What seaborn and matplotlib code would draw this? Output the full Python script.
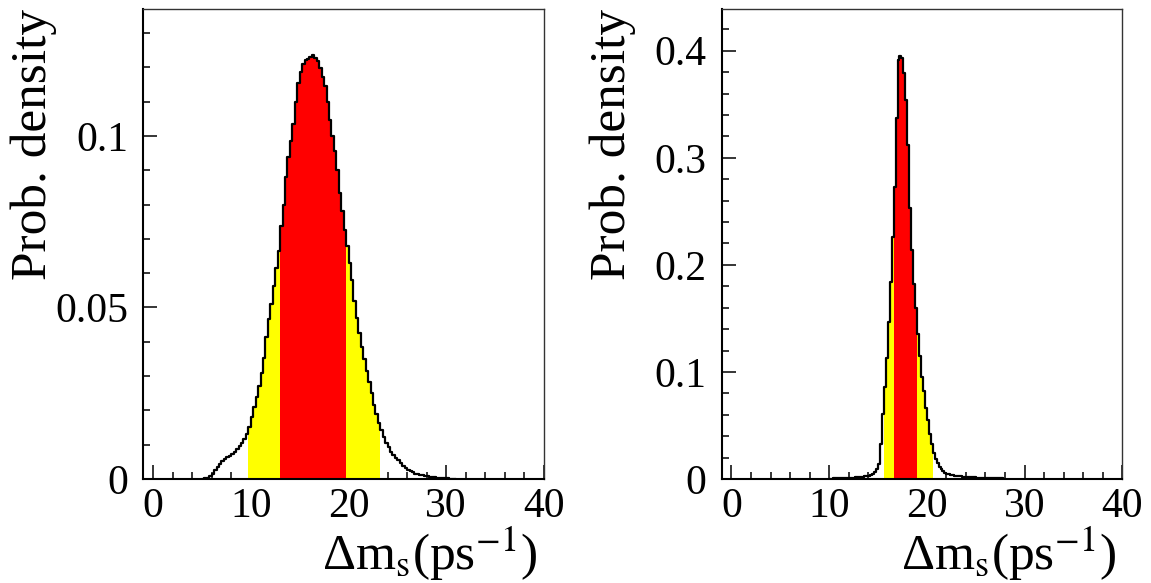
import numpy as np
import pandas as pd
import matplotlib
matplotlib.use("Agg")
import matplotlib.pyplot as plt
import seaborn as sns
from matplotlib.ticker import MultipleLocator, FixedLocator, FuncFormatter

# ---------------- data ----------------
left_start = 5.0
left_width = 0.25
left_values = [
    0.0001, 0.0002, 0.0003, 0.0008, 0.0016, 0.0025, 0.0035, 0.0044,
    0.0053, 0.0059, 0.0064, 0.0068, 0.0073, 0.0078, 0.0086, 0.0095,
    0.0106, 0.0118, 0.0130, 0.0152, 0.0180, 0.0210, 0.0240, 0.0272,
    0.0310, 0.0352, 0.0413, 0.0465, 0.0510, 0.0562, 0.0615, 0.0665,
    0.0738, 0.0800, 0.0880, 0.0940, 0.0985, 0.1035, 0.1100, 0.1155,
    0.1185, 0.1210, 0.1220, 0.1225, 0.1230, 0.1237, 0.1228, 0.1218,
    0.1198, 0.1172, 0.1145, 0.1100, 0.1045, 0.1000, 0.0955, 0.0900,
    0.0835, 0.0780, 0.0725, 0.0680, 0.0630, 0.0580, 0.0520, 0.0470,
    0.0425, 0.0385, 0.0350, 0.0315, 0.0283, 0.0250, 0.0217, 0.0190,
    0.0163, 0.0142, 0.0122, 0.0105, 0.0092, 0.0080, 0.0071, 0.0062,
    0.0054, 0.0046, 0.0039, 0.0032, 0.0026, 0.0022, 0.0019, 0.0016,
    0.0014, 0.0012, 0.0011, 0.0009, 0.0008, 0.0007, 0.0006, 0.0005,
    0.0004, 0.0003, 0.0003, 0.0002, 0.0002, 0.0001, 0.0001, 0.0001,
]
left_red = (13.0, 19.75)
left_yellow = (9.75, 23.25)

right_start = 10.0
right_width = 0.2
right_values = [
    0.0004, 0.0004, 0.0005, 0.0005, 0.0006, 0.0006, 0.0007, 0.0008, 0.0008, 0.0009,
    0.0010, 0.0011, 0.0012, 0.0014, 0.0016, 0.0018, 0.0020, 0.0022, 0.0024, 0.0027,
    0.0031, 0.0038, 0.0050, 0.0068, 0.0090, 0.0140, 0.0330, 0.0610, 0.0860, 0.1130,
    0.1470, 0.1840, 0.2260, 0.2730, 0.3370, 0.3910, 0.3950, 0.3930, 0.3790, 0.3540,
    0.3120, 0.2530, 0.2140, 0.1820, 0.1600, 0.1350, 0.1150, 0.0950, 0.0820, 0.0660,
    0.0550, 0.0420, 0.0330, 0.0240, 0.0190, 0.0150, 0.0115, 0.0092, 0.0075, 0.0060,
    0.0050, 0.0043, 0.0037, 0.0033, 0.0030, 0.0028, 0.0026, 0.0024, 0.0022, 0.0020,
    0.0019, 0.0017, 0.0016, 0.0015, 0.0014, 0.0012, 0.0011, 0.0011, 0.0010, 0.0009,
    0.0009, 0.0008, 0.0008, 0.0007, 0.0007, 0.0006, 0.0006, 0.0005, 0.0005, 0.0004,
]
right_red = (16.6, 19.0)
right_yellow = (15.6, 20.6)

x_ticks = [0, 10, 20, 30, 40]
left_yticks = [0, 0.05, 0.1]
right_yticks = [0, 0.1, 0.2, 0.3, 0.4]
y_label = "Prob. density"
x_label = "\u0394m$_{\\rm s}$(ps$^{-1}$)"

# ---------------- style ----------------
sns.set_theme(style="white")
plt.rcParams["font.family"] = ["Liberation Serif", "DejaVu Serif"]
plt.rcParams["mathtext.fontset"] = "stix"
for key in ("text.color", "axes.labelcolor", "xtick.color", "ytick.color",
            "axes.edgecolor"):
    plt.rcParams[key] = "black"

fig = plt.figure(figsize=(11.51, 5.83), dpi=100)
ax_l = fig.add_axes([0.1245, 0.1784, 0.3481, 0.8062])
ax_r = fig.add_axes([0.6270, 0.1784, 0.3480, 0.8062])


def draw_panel(ax, start, width, values, red, yellow, yticks, ymax, yminor):
    vals = np.asarray(values, dtype=float)
    n = len(vals)
    edges = [round(start + width * i, 6) for i in range(n + 1)]
    centers = [e + width / 2 for e in edges[:-1]]
    df = pd.DataFrame({"x": centers, "w": vals})

    for (lo, hi), col in ((yellow, "#ffff00"), (red, "#ff0000")):
        i0 = int(round((lo - start) / width))
        i1 = int(round((hi - start) / width))
        sub = df.iloc[i0:i1].reset_index(drop=True)
        sns.histplot(data=sub, x="x", weights="w", bins=edges[i0:i1 + 1],
                     element="step", fill=True, color=col, alpha=1.0,
                     linewidth=0, ax=ax)

    sns.histplot(data=df, x="x", weights="w", bins=edges, element="step",
                 fill=False, color="black", linewidth=1.6, ax=ax)

    ax.set_xlim(-1, 40)
    ax.set_ylim(0, ymax)
    ax.xaxis.set_major_locator(FixedLocator(x_ticks))
    ax.xaxis.set_minor_locator(MultipleLocator(2))
    ax.yaxis.set_major_locator(FixedLocator(yticks))
    ax.yaxis.set_minor_locator(MultipleLocator(yminor))
    ax.yaxis.set_major_formatter(FuncFormatter(lambda v, p: "%g" % v))
    ax.xaxis.set_major_formatter(FuncFormatter(lambda v, p: "%g" % v))

    ax.tick_params(axis="both", which="both", direction="in", colors="black",
                   labelcolor="black",
                   bottom=True, left=True, top=False, right=False)
    ax.tick_params(axis="both", which="major", length=10, width=1.1, labelsize=30)
    ax.tick_params(axis="both", which="minor", length=5, width=1.1)
    ax.tick_params(axis="y", which="major", pad=11)
    ax.tick_params(axis="x", which="major", pad=6)

    for side in ("left", "bottom"):
        ax.spines[side].set_linewidth(1.5)
        ax.spines[side].set_color("black")
    for side in ("top", "right"):
        ax.spines[side].set_linewidth(1.0)
        ax.spines[side].set_color("#333333")
        ax.spines[side].set_visible(True)
    ax.grid(False)
    ax.set_facecolor("white")

    ax.set_ylabel(y_label, fontsize=37, loc="top", color="black")
    ax.set_xlabel(x_label, fontsize=37, loc="right", color="black")
    ax.yaxis.set_label_coords(-0.215, 1.0)
    ax.xaxis.set_label_coords(0.985, -0.097)


draw_panel(ax_l, left_start, left_width, left_values, left_red, left_yellow,
           left_yticks, 0.137, 0.01)
draw_panel(ax_r, right_start, right_width, right_values, right_red, right_yellow,
           right_yticks, 0.439, 0.02)

fig.savefig("out.png", dpi=100, facecolor="white")
